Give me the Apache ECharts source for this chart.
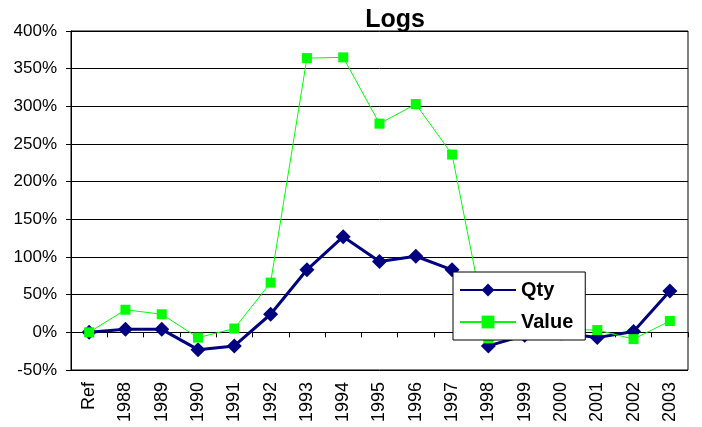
<!DOCTYPE html>
<html>
<head>
<meta charset="utf-8">
<script src="https://cdn.jsdelivr.net/npm/echarts@6/dist/echarts.min.js"></script>
<style>
  html, body { margin: 0; padding: 0; background: #fff; }
  #chart { width: 702px; height: 427px; }
</style>
</head>
<body>
<div id="chart"></div>
<script>
const categories = ['Ref', '1988', '1989', '1990', '1991', '1992', '1993', '1994', '1995',
  '1996', '1997', '1998', '1999', '2000', '2001', '2002', '2003']
// percent values
const qty = [0, 4, 4, -23, -18, 24, 83, 127, 94, 101, 83, -18, -4, -1, -7, 1, 55]
const value = [0, 30, 24, -7, 5, 66, 364, 365, 277, 303, 236, -8, 0, 4, 3, -9, 15]
const yTicks = { min: -50, max: 400, interval: 50 }

const font = 'Arial, "Liberation Sans", sans-serif'
const chart = echarts.init(document.getElementById('chart'))
const option = {
  animation: false,
  title: {
    text: 'Logs',
    left: 390,
    top: 3,
    textAlign: 'center',
    textStyle: { fontFamily: font, fontSize: 25, fontWeight: 'bold', color: '#000' },
  },
  legend: {
    orient: 'vertical',
    left: 453,
    top: 272,
    z: 20,
    width: 131,
    padding: [8, 12, 8, 6],
    itemGap: 12,
    itemWidth: 56,
    itemHeight: 16,
    backgroundColor: '#fff',
    borderColor: '#000',
    borderWidth: 1,
    textStyle: { fontFamily: font, fontSize: 20, fontWeight: 'bold', color: '#000' },
    data: ['Qty', 'Value'],
  },
  grid: {
    left: 71,
    right: 14,
    top: 31,
    bottom: 57,
    show: true,
    borderColor: '#000',
    borderWidth: 1,
    backgroundColor: 'transparent',
  },
  xAxis: [
    {
      type: 'category',
      data: categories,
      position: 'bottom',
      axisLine: { show: false, onZero: false },
      axisTick: { show: false },
      axisLabel: { rotate: 90, fontFamily: font, fontSize: 18, color: '#000', margin: 12 },
    },
    {
      type: 'category',
      data: categories,
      position: 'bottom',
      axisLine: { show: true, onZero: true, lineStyle: { color: '#000', width: 1 } },
      axisTick: { show: true, length: 5, lineStyle: { color: '#000' } },
      axisLabel: { show: false },
    },
  ],
  yAxis: {
    type: 'value',
    min: yTicks.min,
    max: yTicks.max,
    interval: yTicks.interval,
    axisLine: { show: true, lineStyle: { color: '#000', width: 1 } },
    axisTick: { show: true, length: 5, lineStyle: { color: '#000' } },
    axisLabel: {
      fontFamily: font, fontSize: 17, color: '#000', margin: 14,
      formatter: (v) => v + '%',
    },
    splitLine: { show: true, lineStyle: { color: '#000', width: 1 } },
  },
  series: [
    {
      name: 'Qty',
      type: 'line',
      data: qty,
      color: '#000080',
      symbol: 'diamond',
      symbolSize: 15,
      lineStyle: { width: 3, color: '#000080' },
      itemStyle: { color: '#000080' },
      z: 3,
    },
    {
      name: 'Value',
      type: 'line',
      data: value,
      color: '#00ff00',
      symbol: 'rect',
      symbolSize: 10,
      lineStyle: { width: 1, color: '#00ff00' },
      itemStyle: { color: '#00ff00' },
      z: 4,
    },
  ],
}
chart.setOption(option)
</script>
</body>
</html>
